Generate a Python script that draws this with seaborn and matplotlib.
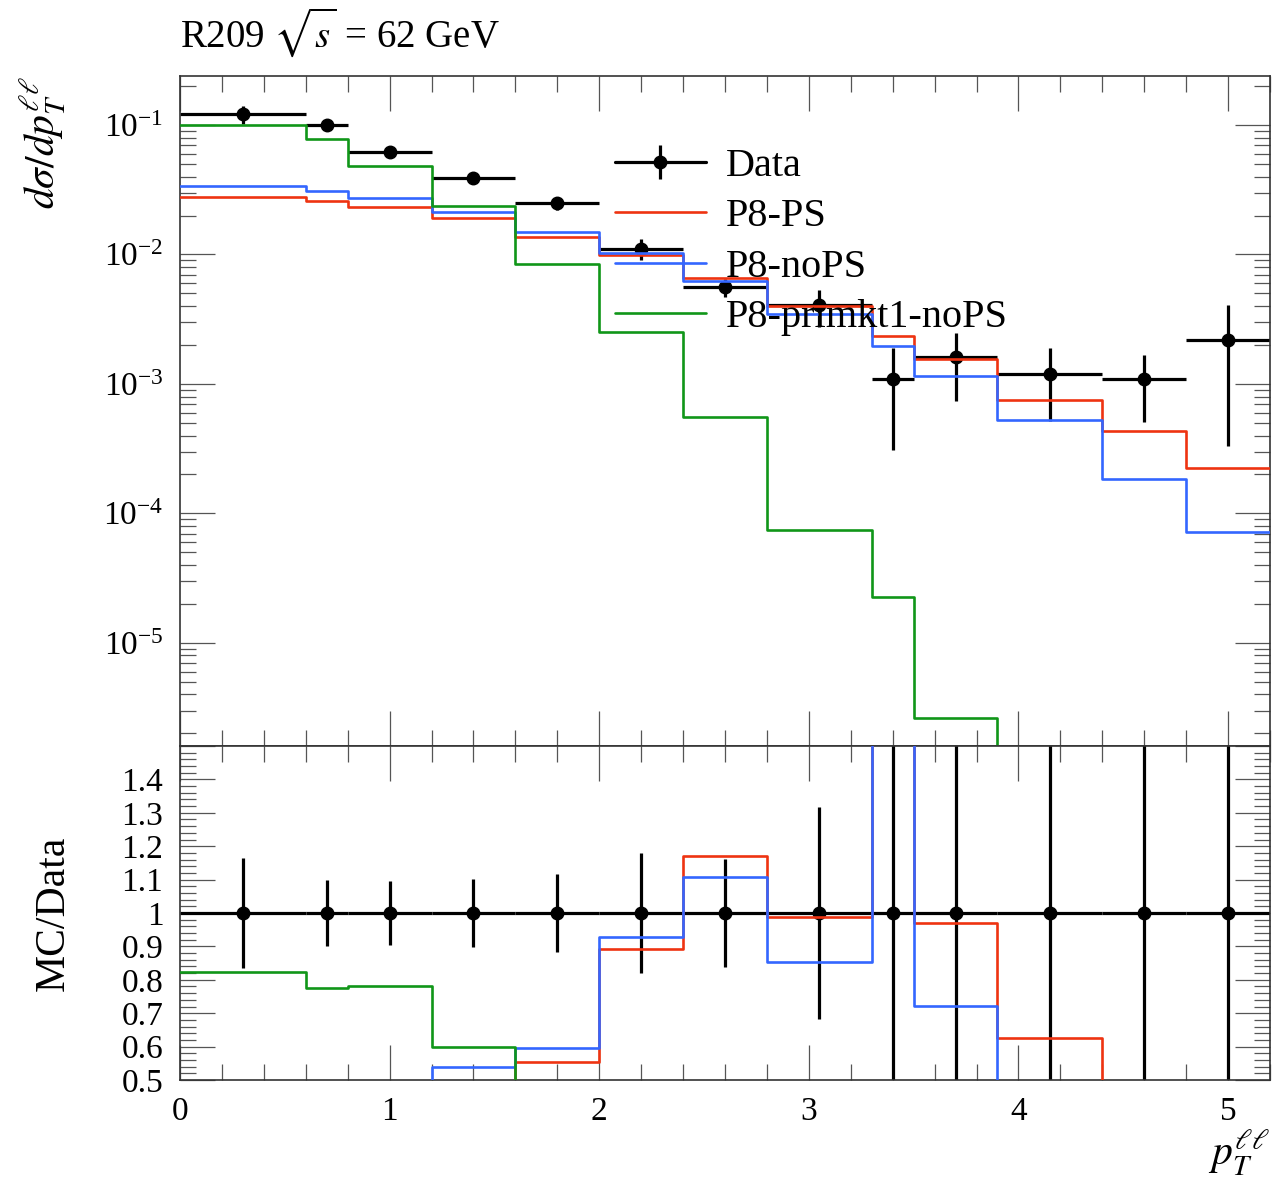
import numpy as np
import pandas as pd
import matplotlib
matplotlib.use("Agg")
import matplotlib.pyplot as plt
import seaborn as sns
from matplotlib.lines import Line2D
from matplotlib.ticker import MultipleLocator, LogLocator, FuncFormatter, NullFormatter

# ---------------- data ----------------
bin_edges = [0.0, 0.6, 0.8, 1.2, 1.6, 2.0, 2.4, 2.8, 3.3, 3.5, 3.9, 4.4, 4.8, 5.2]
bin_centers = [0.3, 0.7, 1.0, 1.4, 1.8, 2.2, 2.6, 3.05, 3.4, 3.7, 4.15, 4.6, 5.0]
data_values = [0.121, 0.100, 0.0622, 0.0392, 0.0248, 0.0111, 0.0056, 0.00405,
               0.0011, 0.00161, 0.0012, 0.00109, 0.0022]
data_errors = [0.0201, 0.0098, 0.0059, 0.00404, 0.00293, 0.0020, 0.0009, 0.00128,
               0.00079, 0.00087, 0.00068, 0.00058, 0.00187]
p8_ps = [0.0279, 0.026, 0.0234, 0.019, 0.0137, 0.0099, 0.00655, 0.0040,
         0.00233, 0.00156, 0.00075, 0.00043, 0.000224]
p8_nops = [0.0337, 0.0309, 0.0271, 0.0211, 0.0148, 0.0103, 0.0062, 0.00345,
           0.00195, 0.00116, 0.00053, 0.000185, 7.2e-5]
p8_primkt1_nops = [0.0996, 0.0775, 0.0486, 0.0235, 0.0085, 0.00252, 0.000555, 7.4e-5,
                   2.27e-5, 2.65e-6, 0.0, 0.0, 0.0]
series_labels = ["P8-PS", "P8-noPS", "P8-primkt1-noPS"]
series_colors = ["#EE3311", "#3366FF", "#109618"]
title_text = r"R209 $\sqrt{s}$ = 62 GeV"

# ---------------- style ----------------
sns.set_theme(style="ticks")
plt.rcParams['font.family'] = ['Liberation Serif', 'DejaVu Serif']
plt.rcParams['mathtext.fontset'] = 'stix'
plt.rcParams['text.color'] = 'black'
plt.rcParams['axes.labelcolor'] = 'black'
plt.rcParams['xtick.color'] = '#555555'
plt.rcParams['ytick.color'] = '#555555'
plt.rcParams['xtick.labelcolor'] = 'black'
plt.rcParams['ytick.labelcolor'] = 'black'

fig = plt.figure(figsize=(12.84, 11.86), dpi=100)
ax = fig.add_axes([0.14019, 0.37099, 0.8489, 0.56493])
rax = fig.add_axes([0.14019, 0.08938, 0.8489, 0.28161])

palette = dict(zip(series_labels, series_colors))
series_values = dict(zip(series_labels, [p8_ps, p8_nops, p8_primkt1_nops]))

edges = np.array(bin_edges)
centers = np.array(bin_centers)
dvals = np.array(data_values)
derrs = np.array(data_errors)
xerr = [centers - edges[:-1], edges[1:] - centers]


def step_frame(values_map, divide_by=None):
    frames = []
    for lab, vals in values_map.items():
        v = np.array(vals, dtype=float)
        if divide_by is not None:
            v = v / divide_by
        frames.append(pd.DataFrame({"pT": edges,
                                    "value": np.append(v, v[-1]),
                                    "sample": lab}))
    return pd.concat(frames, ignore_index=True)


main_df = step_frame(series_values)
ratio_df = step_frame(series_values, divide_by=dvals)

# ---------------- main panel ----------------
ax.errorbar(centers, dvals, xerr=xerr, yerr=derrs, fmt='o', color='black',
            ms=9, lw=2.3, capsize=0, zorder=2)
sns.lineplot(data=main_df, x="pT", y="value", hue="sample", palette=palette,
             estimator=None, sort=False, drawstyle="steps-post", linewidth=1.9,
             legend=False, ax=ax, zorder=3)
ax.set_yscale('log')
ax.set_xlim(0, 5.2)
ax.set_ylim(1.6e-6, 0.239)
ax.set_xlabel("")
ax.set_ylabel(r"$d\sigma/dp_T^{\ell\ell}$", fontsize=30, loc='top')
ax.yaxis.set_label_coords(-0.103, 1.0)

ax.xaxis.set_major_locator(MultipleLocator(1))
ax.xaxis.set_minor_locator(MultipleLocator(0.2))
ax.yaxis.set_major_locator(LogLocator(base=10, numticks=20))
ax.yaxis.set_minor_locator(LogLocator(base=10, subs=np.arange(2, 10), numticks=20))
ax.yaxis.set_minor_formatter(NullFormatter())
ax.tick_params(labelbottom=False)

data_leg = (Line2D([0], [0], color='black', lw=2.3, marker='o', ms=9),
            Line2D([0], [0], color='black', marker='|', ms=24, mew=2.3, linestyle='none'))
handles = [data_leg] + [Line2D([0], [0], color=c, lw=1.9) for c in series_colors]
labels = ["Data"] + series_labels
ax.legend(handles, labels, loc='upper left', bbox_to_anchor=(0.399, 0.893),
          frameon=False, fontsize=29, handlelength=2.25, handletextpad=0.5,
          labelspacing=0.33, borderpad=0, borderaxespad=0)

# ---------------- ratio panel ----------------
rax.errorbar(centers, np.ones_like(dvals), xerr=xerr, yerr=derrs / dvals, fmt='o',
             color='black', ms=9, lw=2.3, capsize=0, zorder=2)
sns.lineplot(data=ratio_df, x="pT", y="value", hue="sample", palette=palette,
             estimator=None, sort=False, drawstyle="steps-post", linewidth=1.9,
             legend=False, ax=rax, zorder=3)
rax.set_xlim(0, 5.2)
rax.set_ylim(0.5, 1.5)
rax.set_ylabel("MC/Data", fontsize=30)
rax.yaxis.set_label_coords(-0.098, 0.5)
rax.set_xlabel(r"$p_T^{\ell\ell}$", fontsize=30, loc='right', labelpad=0)
rax.xaxis.set_major_locator(MultipleLocator(1))
rax.xaxis.set_minor_locator(MultipleLocator(0.2))
rax.yaxis.set_major_locator(MultipleLocator(0.1))
rax.yaxis.set_minor_locator(MultipleLocator(0.02))
rax.yaxis.set_major_formatter(FuncFormatter(lambda v, p: "" if v > 1.45 else f"{round(v, 2):g}"))
rax.xaxis.set_major_formatter(FuncFormatter(lambda v, p: f"{v:g}"))

for a in (ax, rax):
    a.tick_params(which='both', direction='in', top=True, right=True, bottom=True, left=True)
    a.tick_params(which='major', length=25, width=0.9, labelsize=24)
    a.tick_params(which='minor', length=11.5, width=0.9)
    a.tick_params(axis='y', pad=12)
    a.tick_params(axis='x', pad=12)
    for s in a.spines.values():
        s.set_visible(True)
        s.set_color('#333333')
        s.set_linewidth(1.2)

fig.text(0.14019, 1 - 32 / 1186, title_text, ha='left', va='center', fontsize=28)

fig.savefig("out.png", dpi=100)
